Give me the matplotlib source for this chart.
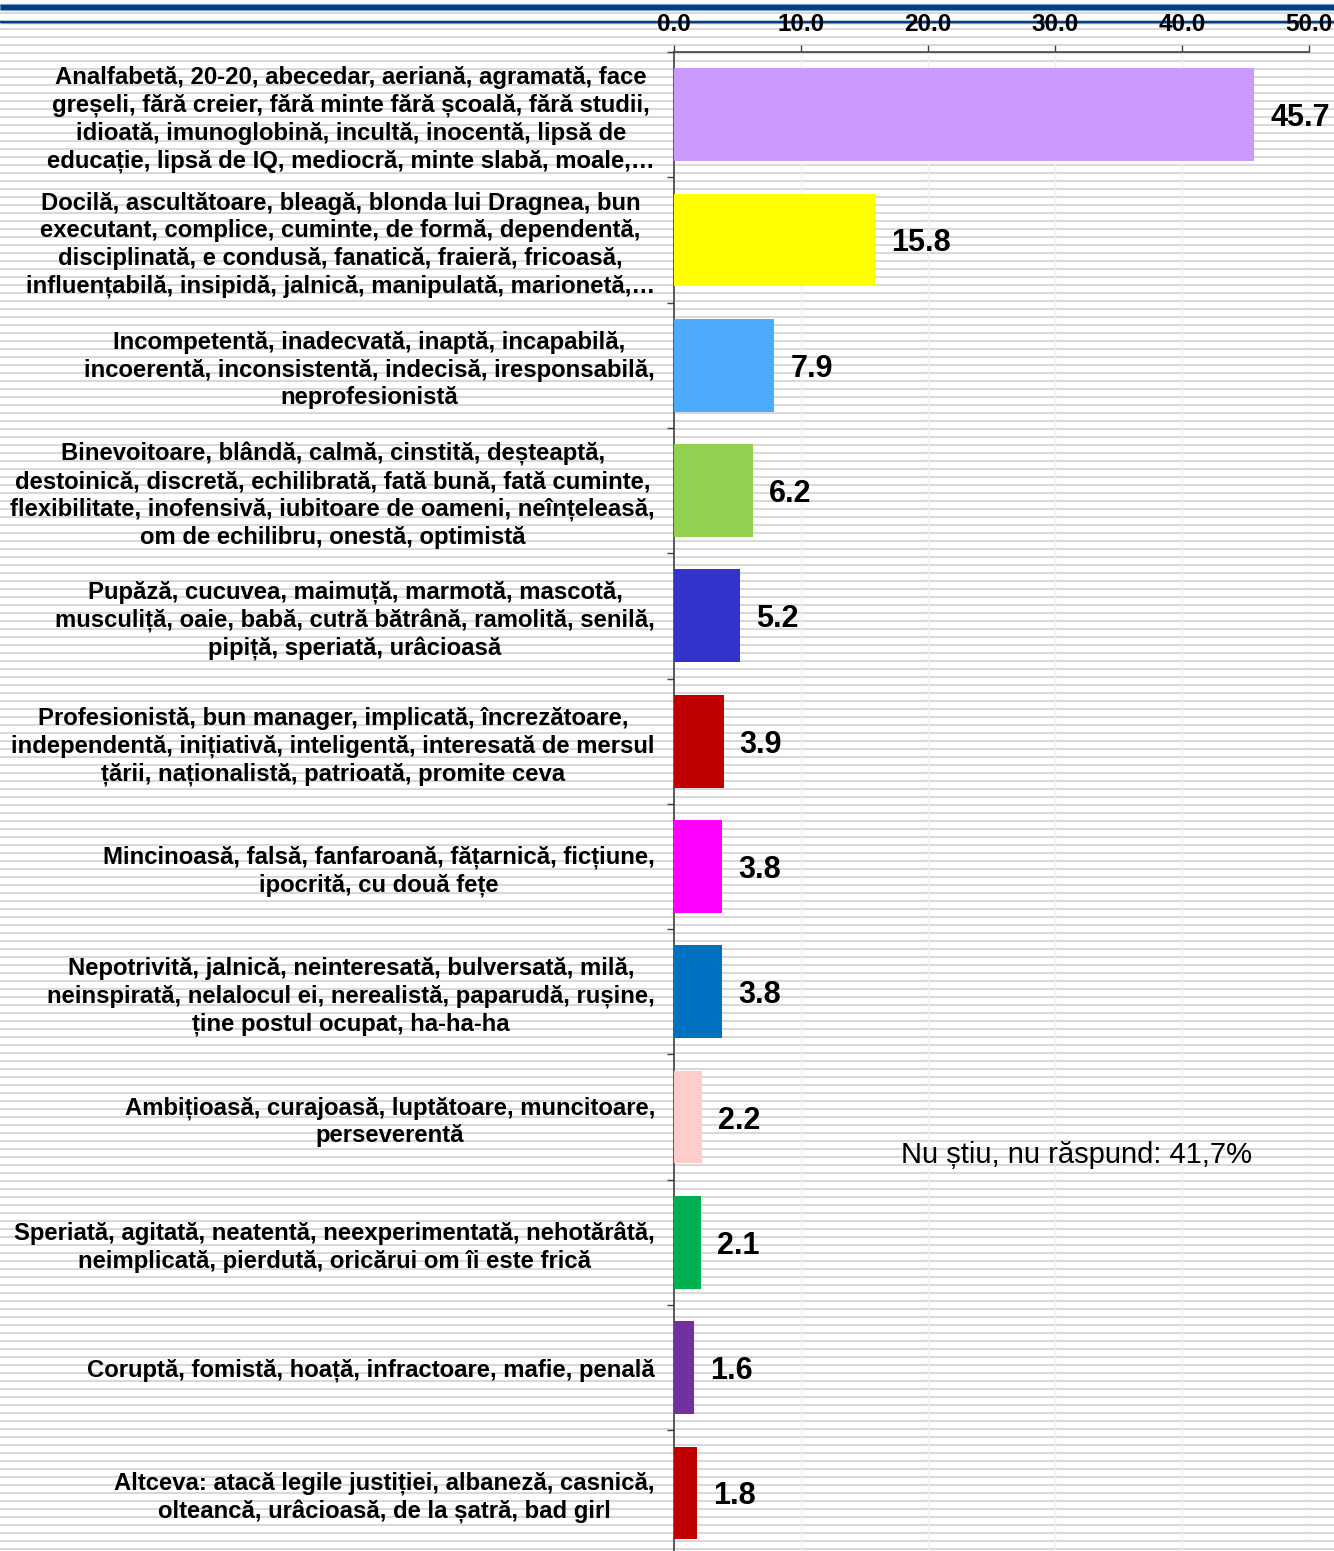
import numpy as np
import matplotlib.pyplot as plt

plt.rcParams['font.family'] = ['Liberation Sans', 'DejaVu Sans']

# data
labels = [
    "Analfabetă, 20-20, abecedar, aeriană, agramată, face\ngreșeli, fără creier, fără minte fără școală, fără studii,\nidioată, imunoglobină, incultă, inocentă, lipsă de\neducație, lipsă de IQ, mediocră, minte slabă, moale,…",
    "Docilă, ascultătoare, bleagă, blonda lui Dragnea, bun\nexecutant, complice, cuminte, de formă, dependentă,\ndisciplinată, e condusă, fanatică, fraieră, fricoasă,\ninfluențabilă, insipidă, jalnică, manipulată, marionetă,…",
    "Incompetentă, inadecvată, inaptă, incapabilă,\nincoerentă, inconsistentă, indecisă, iresponsabilă,\nneprofesionistă",
    "Binevoitoare, blândă, calmă, cinstită, deșteaptă,\ndestoinică, discretă, echilibrată, fată bună, fată cuminte,\nflexibilitate, inofensivă, iubitoare de oameni, neînțeleasă,\nom de echilibru, onestă, optimistă",
    "Pupăză, cucuvea, maimuță, marmotă, mascotă,\nmusculiță, oaie, babă, cutră bătrână, ramolită, senilă,\npipiță, speriată, urâcioasă",
    "Profesionistă, bun manager, implicată, încrezătoare,\nindependentă, inițiativă, inteligentă, interesată de mersul\nțării, naționalistă, patrioată, promite ceva",
    "Mincinoasă, falsă, fanfaroană, fățarnică, ficțiune,\nipocrită, cu două fețe",
    "Nepotrivită, jalnică, neinteresată, bulversată, milă,\nneinspirată, nelalocul ei, nerealistă, paparudă, rușine,\nține postul ocupat, ha-ha-ha",
    "Ambițioasă, curajoasă, luptătoare, muncitoare,\nperseverentă",
    "Speriată, agitată, neatentă, neexperimentată, nehotărâtă,\nneimplicată, pierdută, oricărui om îi este frică",
    "Coruptă, fomistă, hoață, infractoare, mafie, penală",
    "Altceva: atacă legile justiției, albaneză, casnică,\nolteancă, urâcioasă, de la șatră, bad girl",
]
values = [45.7, 15.8, 7.9, 6.2, 5.2, 3.9, 3.8, 3.8, 2.2, 2.1, 1.6, 1.8]
colors = ['#cc99ff', '#ffff00', '#4dabff', '#92d050', '#3333cc', '#c00000',
          '#ff00ff', '#0070c0', '#ffcccc', '#00b050', '#7030a0', '#c00000']
xticks = [0, 10, 20, 30, 40, 50]
note = "Nu știu, nu răspund: 41,7%"

W, H = 1334, 1551
fig = plt.figure(figsize=(W / 100, H / 100), dpi=100)

# striped background + blue rules at the top
bg = fig.add_axes([0, 0, 1, 1], zorder=0)
bg.set_xlim(0, W)
bg.set_ylim(H, 0)
bg.axis('off')
bg.hlines(np.arange(5.3, H, 8), 0, W, color='#d9d9d9', lw=1.5)
bg.hlines([6.5], 0, W, color='#7f9cc4', lw=5.2)
bg.hlines([6.5], 0, W, color='#003f8a', lw=3.6)
bg.hlines([22], 0, W, color='#7f9cc4', lw=2.4)
bg.hlines([22], 0, W, color='#003f8a', lw=1.5)

# main chart
top_px, cat_px = 52, 125.3
n = len(values)
ax = fig.add_axes([674 / W, 1 - (top_px + n * cat_px) / H, 635 / W, n * cat_px / H], zorder=1)
ax.set_facecolor('none')
y = np.arange(n)
ax.barh(y, values, height=0.74, color=colors, zorder=3)
ax.set_xlim(0, 50)
ax.set_ylim(n - 0.5, -0.5)

ax.xaxis.tick_top()
ax.set_xticks(xticks)
ax.set_xticklabels([f'{t:.1f}' for t in xticks], fontsize=17.5, fontweight='bold')
ax.tick_params(axis='x', direction='out', length=5, width=1, color='#404040', pad=6.5)
ax.grid(axis='x', color='#f0f0f0', lw=1, zorder=1)

ax.set_yticks(y)
ax.set_yticklabels(labels, fontsize=17.2, fontweight='bold')
for lbl in ax.get_yticklabels():
    lbl.set_multialignment('center')
    lbl.set_linespacing(1.255)
ax.tick_params(axis='y', which='major', length=0, pad=13.7)
ax.set_yticks(np.arange(-0.5, n, 1), minor=True)
ax.tick_params(axis='y', which='minor', length=5, width=1, color='#404040')

for s in ['right', 'bottom']:
    ax.spines[s].set_visible(False)
for s in ['left', 'top']:
    ax.spines[s].set_color('#404040')
    ax.spines[s].set_linewidth(1.2)

for i, v in enumerate(values):
    ax.annotate(f'{v:.1f}', (v, i), xytext=(11.5, -2.5), textcoords='offset points',
                va='center', ha='left', fontsize=22, fontweight='bold', zorder=4)

ax.text(17.9, 8.3, note, va='center', ha='left', fontsize=21)

fig.savefig('out.png', dpi=100)
